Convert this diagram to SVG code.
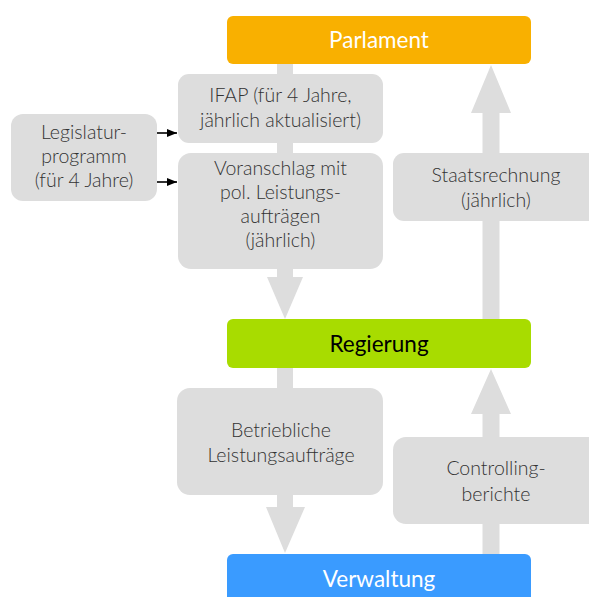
<svg xmlns="http://www.w3.org/2000/svg" width="589" height="597" viewBox="0 0 589 597">
<style>
.lbl{fill:#dddddd}
.t{font-family:Lato,"Open Sans","Liberation Sans",sans-serif;font-weight:300;font-size:19.5px;fill:#333333;text-anchor:middle}
.h{font-family:Lato,"Open Sans","Liberation Sans",sans-serif;font-weight:400;font-size:22.5px;text-anchor:middle}
.arr{fill:#dddddd}
.sm{stroke:#000;stroke-width:1.6;fill:none}
</style>
<defs>
<marker id="ah" markerWidth="10" markerHeight="8" refX="10" refY="4" orient="auto" markerUnits="userSpaceOnUse">
<path d="M0,0 L10,4 L0,8 Z" fill="#000"/>
</marker>
</defs>
<rect width="589" height="597" fill="#ffffff"/>
<g id="connectors">
<polygon class="arr" points="277,64 293,64 293,277 303,277 285,319 267,277 277,277"/>
<polygon class="arr" points="482.5,319 499.5,319 499.5,113 511,113 491,65 471,113 482.5,113"/>
<polygon class="arr" points="277,368 293,368 293,507 305,507 285,553 266,507 277,507"/>
<polygon class="arr" points="482.5,554 499.5,554 499.5,414 511,414 491,369 471,414 482.5,414"/>
<line class="sm" x1="157" y1="133" x2="177" y2="133" marker-end="url(#ah)"/>
<line class="sm" x1="157" y1="182" x2="177" y2="182" marker-end="url(#ah)"/>
</g>
<g id="parlament">
<rect x="227" y="16" width="304" height="48" rx="6" fill="#f9b000"/>
<text class="h" x="379" y="48" fill="#ffffff">Parlament</text>
</g>
<g id="regierung">
<rect x="227" y="319" width="304" height="49" rx="6" fill="#a8dc00"/>
<text class="h" x="379" y="352" fill="#000000">Regierung</text>
</g>
<g id="verwaltung">
<rect x="227" y="554" width="304" height="60" rx="6" fill="#3a9bff"/>
<text class="h" x="379" y="587" fill="#ffffff">Verwaltung</text>
</g>
<g id="ifap">
<rect class="lbl" x="178" y="74" width="205" height="69" rx="11"/>
<text class="t" x="280.5" y="102">IFAP (für 4 Jahre,</text>
<text class="t" x="280.5" y="127">jährlich aktualisiert)</text>
</g>
<g id="voranschlag">
<rect class="lbl" x="178" y="153" width="205" height="116" rx="13"/>
<text class="t" x="280.5" y="175">Voranschlag mit</text>
<text class="t" x="280.5" y="199">pol. Leistungs-</text>
<text class="t" x="280.5" y="223">aufträgen</text>
<text class="t" x="280.5" y="247">(jährlich)</text>
</g>
<g id="legislatur">
<rect class="lbl" x="11" y="114" width="146" height="87" rx="12"/>
<text class="t" x="84" y="139">Legislatur-</text>
<text class="t" x="84" y="163">programm</text>
<text class="t" x="84" y="187">(für 4 Jahre)</text>
</g>
<g id="staatsrechnung">
<rect class="lbl" x="393" y="153" width="220" height="68" rx="11"/>
<text class="t" x="496" y="182">Staatsrechnung</text>
<text class="t" x="496" y="207">(jährlich)</text>
</g>
<g id="betriebliche">
<rect class="lbl" x="177" y="388" width="206" height="107" rx="13"/>
<text class="t" x="281" y="437">Betriebliche</text>
<text class="t" x="281" y="462">Leistungsaufträge</text>
</g>
<g id="controlling">
<rect class="lbl" x="393" y="437" width="220" height="87" rx="13"/>
<text class="t" x="496" y="475">Controlling-</text>
<text class="t" x="496" y="501">berichte</text>
</g>
</svg>
